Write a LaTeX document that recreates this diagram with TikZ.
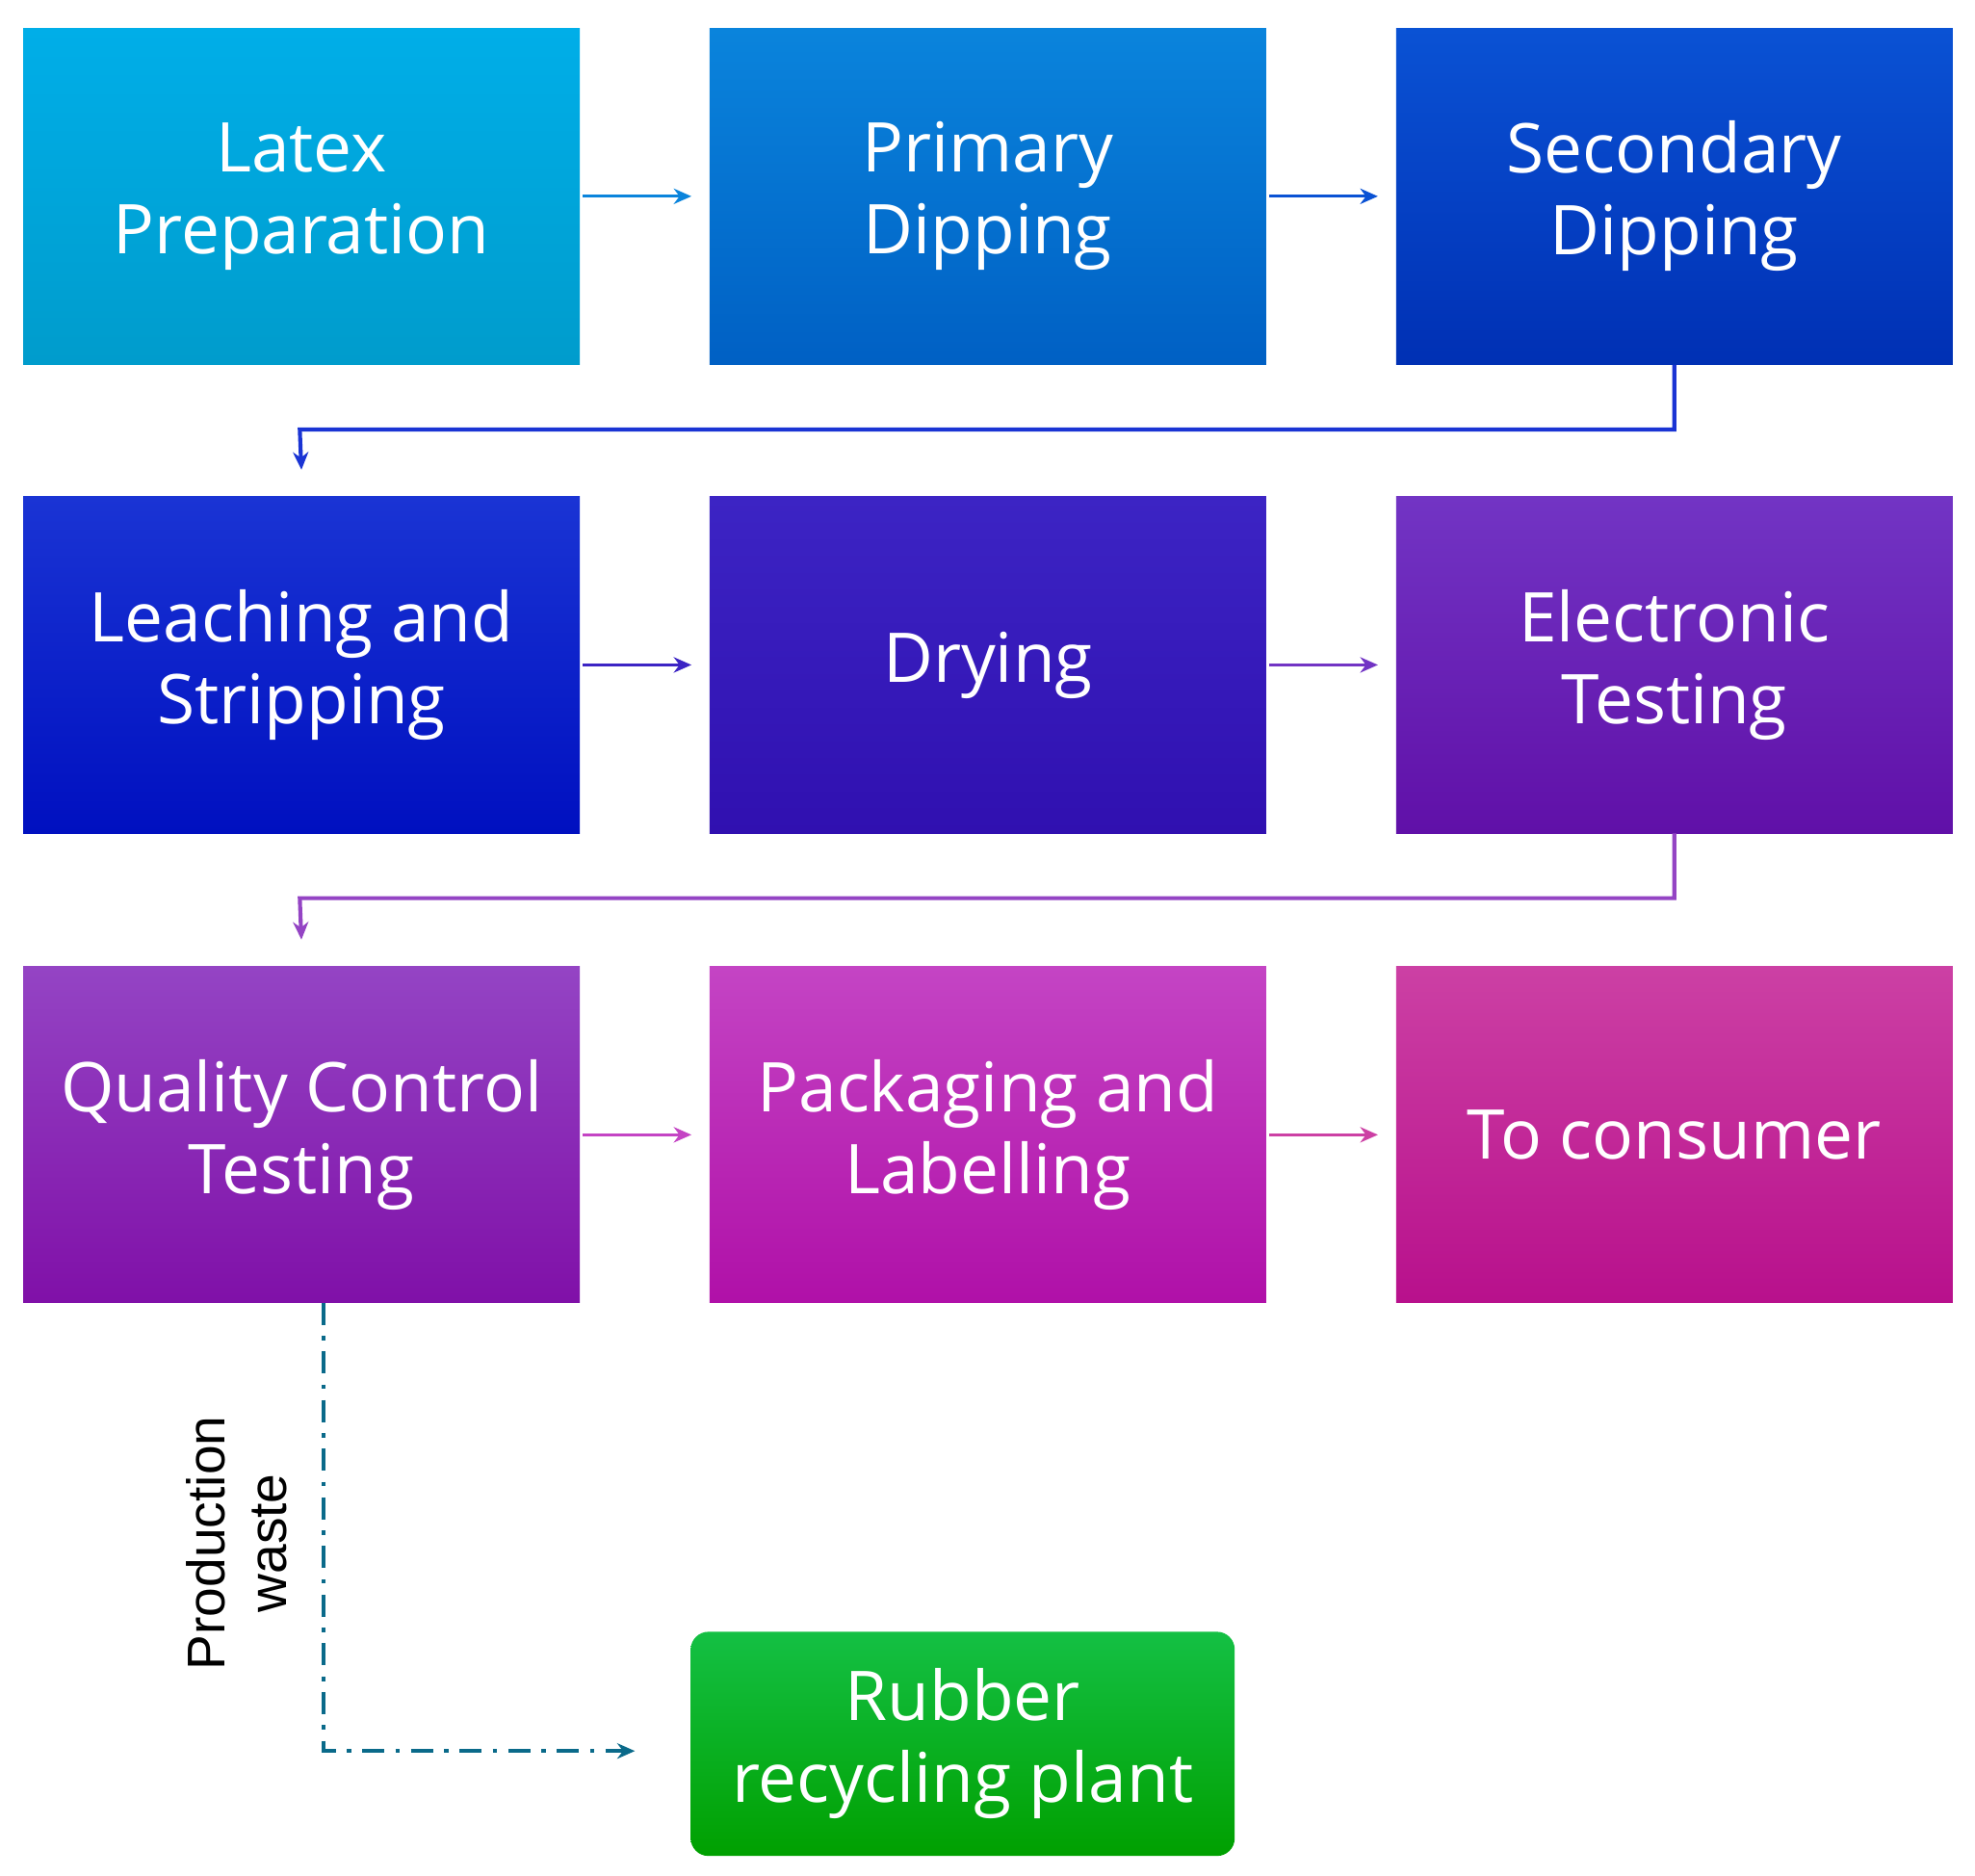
\documentclass[tikz,border=0pt]{standalone}
\usepackage{fontspec}
\setmainfont{Open Sans}
\newfontfamily\lab{Liberation Sans}
\usetikzlibrary{arrows.meta}
\begin{document}
\begin{tikzpicture}[x=0.02cm,y=-0.02cm,
  box/.style n args={2}{minimum width=8.84cm,minimum height=5.34cm,anchor=north west,
    top color=#1,bottom color=#2,draw=none,text=white,align=center,
    font=\fontsize{31}{37}\selectfont},
  arr/.style={draw=#1,line width=1.3pt,-{Stealth[length=8pt,width=7pt]}}]
\useasboundingbox (0,0) rectangle (1568,1489);
\definecolor{a1}{HTML}{00AEE8}\definecolor{b1}{HTML}{009CCC}
\definecolor{a2}{HTML}{0A84DC}\definecolor{b2}{HTML}{0060C4}
\definecolor{a3}{HTML}{0A52D4}\definecolor{b3}{HTML}{0030B4}
\definecolor{a4}{HTML}{1A34D4}\definecolor{b4}{HTML}{0010C0}
\definecolor{a5}{HTML}{3C24C4}\definecolor{b5}{HTML}{3010B0}
\definecolor{a6}{HTML}{7234C4}\definecolor{b6}{HTML}{6010A8}
\definecolor{a7}{HTML}{9444C4}\definecolor{b7}{HTML}{8010A8}
\definecolor{a8}{HTML}{C444C4}\definecolor{b8}{HTML}{B010A8}
\definecolor{a9}{HTML}{CC40A4}\definecolor{b9}{HTML}{B8108C}
\definecolor{g1}{HTML}{14C044}\definecolor{g2}{HTML}{00A000}
\definecolor{dsh}{HTML}{0A6A8A}
\node[box={a1}{b1}] (n1) at (18,22) {Latex\\Preparation};
\node[box={a2}{b2}] (n2) at (563,22) {Primary\\Dipping};
\node[box={a3}{b3}] (n3) at (1108,22) {Secondary\\Dipping};
\node[box={a4}{b4}] (n4) at (18,394) {Leaching and\\Stripping};
\node[box={a5}{b5}] (n5) at (563,394) {Drying};
\node[box={a6}{b6}] (n6) at (1108,394) {Electronic\\Testing};
\node[box={a7}{b7}] (n7) at (18,767) {Quality Control\\Testing};
\node[box={a8}{b8}] (n8) at (563,767) {Packaging and\\Labelling};
\node[box={a9}{b9}] (n9) at (1108,767) {To consumer};
\node[box={g1}{g2},minimum width=8.64cm,minimum height=3.56cm,rounded corners=8pt] (g) at (548,1295) {Rubber\\recycling plant};
\draw[arr=a2] (n1.east)++(2,0) -- ([xshift=-8]n2.west);
\draw[arr=a3] (n2.east)++(2,0) -- ([xshift=-8]n3.west);
\draw[arr=a5] (n4.east)++(2,0) -- ([xshift=-8]n5.west);
\draw[arr=a6] (n5.east)++(2,0) -- ([xshift=-8]n6.west);
\draw[arr=a8] (n7.east)++(2,0) -- ([xshift=-8]n8.west);
\draw[arr=a9] (n8.east)++(2,0) -- ([xshift=-8]n9.west);
\draw[arr=a4,line width=1.8pt] (n3.south) |- (238,341) -- ([yshift=12]n4.north);
\draw[arr=a7,line width=1.8pt] (n6.south) |- (238,713) -- ([yshift=12]n7.north);
\coordinate (c) at (257,1390);
\draw[arr=dsh,line width=1.8pt,dash pattern=on 10pt off 5pt on 2pt off 5pt] (257,1034) -- (c) -- ([xshift=-25]g.west|-c);
\node[rotate=90,align=center,font=\lab\fontsize{24}{28}\selectfont] at (188,1225) {Production\\waste};
\end{tikzpicture}
\end{document}
